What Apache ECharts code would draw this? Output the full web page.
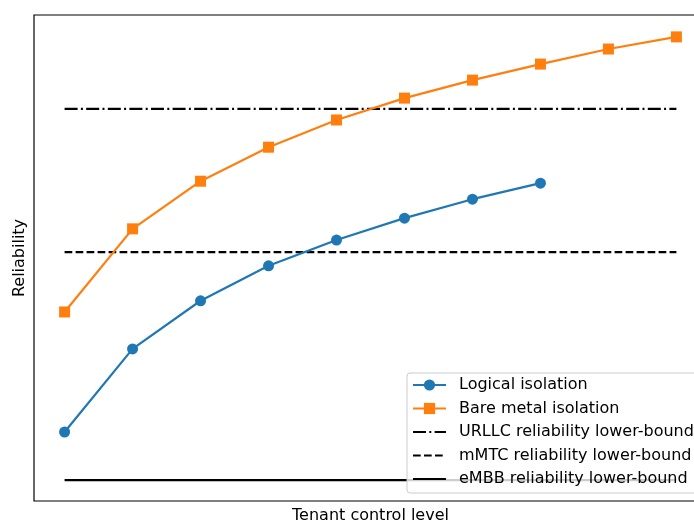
<!DOCTYPE html>
<html>
<head>
<meta charset="utf-8">
<script src="https://cdn.jsdelivr.net/npm/echarts@6/dist/echarts.min.js"></script>
<style>html,body{margin:0;padding:0;background:#fff;}#c{width:694px;height:523px;}</style>
</head>
<body>
<div id="c"></div>
<script>
const levels = [1, 2, 3, 4, 5, 6, 7, 8, 9, 10];
const logicalIsolation = [14.2, 31.3, 41.2, 48.4, 53.7, 58.2, 62.1, 65.4];
const bareMetalIsolation = [38.9, 56.0, 65.8, 72.8, 78.4, 82.9, 86.6, 89.9, 93.0, 95.5];
const urllcBound = 80.7;
const mmtcBound = 51.2;
const embbBound = 4.3;
const seriesNames = ['Logical isolation', 'Bare metal isolation', 'URLLC reliability lower-bound', 'mMTC reliability lower-bound', 'eMBB reliability lower-bound'];

const font = 'DejaVu Sans';
const pairs = (ys) => ys.map((v, i) => [levels[i], v]);
const hline = (v) => [[levels[0], v], [levels[levels.length - 1], v]];

const chart = echarts.init(document.getElementById('c'), null, {renderer: 'canvas'});
chart.setOption({
  animation: false,
  backgroundColor: '#ffffff',
  textStyle: {fontFamily: font},
  grid: {left: 34, top: 15, width: 673, height: 486, show: true, borderColor: '#000', borderWidth: 1.2,
         backgroundColor: 'transparent', outerBoundsMode: 'none', containLabel: false},
  xAxis: {
    type: 'value', min: 0.55, max: 10.45,
    name: 'Tenant control level', nameLocation: 'middle', nameGap: 7,
    nameTextStyle: {fontFamily: font, fontSize: 16, color: '#000', verticalAlign: 'top'},
    axisLine: {show: false}, axisTick: {show: false}, axisLabel: {show: false}, splitLine: {show: false}
  },
  yAxis: {
    type: 'value', min: 0, max: 100,
    name: 'Reliability', nameLocation: 'middle', nameGap: 6, nameRotate: 90,
    nameTextStyle: {fontFamily: font, fontSize: 16, color: '#000'},
    axisLine: {show: false}, axisTick: {show: false}, axisLabel: {show: false}, splitLine: {show: false}
  },
  legend: {
    orient: 'vertical', left: 407, top: 373,
    padding: [4, 10, 6, 5],
    itemWidth: 33, itemHeight: 14, itemGap: 7.5,
    backgroundColor: 'rgba(255,255,255,0.8)', borderColor: '#cccccc', borderWidth: 1, borderRadius: 3,
    textStyle: {fontFamily: font, fontSize: 16, color: '#000', padding: [0, 0, 0, 8]},
    data: [
      {name: seriesNames[0]},
      {name: seriesNames[1]},
      {name: seriesNames[2], itemStyle: {opacity: 0}},
      {name: seriesNames[3], itemStyle: {opacity: 0}},
      {name: seriesNames[4], itemStyle: {opacity: 0}}
    ]
  },
  series: [
    {name: seriesNames[0], type: 'line', data: pairs(logicalIsolation), symbol: 'circle', symbolSize: 11,
     itemStyle: {color: '#1f77b4'}, lineStyle: {color: '#1f77b4', width: 2.2}, z: 3},
    {name: seriesNames[1], type: 'line', data: pairs(bareMetalIsolation), symbol: 'rect', symbolSize: 11,
     itemStyle: {color: '#ff7f0e'}, lineStyle: {color: '#ff7f0e', width: 2.2}, z: 3},
    {name: seriesNames[2], type: 'line', data: hline(urllcBound), symbol: 'none',
     itemStyle: {color: '#000'}, lineStyle: {color: '#000', width: 2.2, type: [13, 3.3, 2, 3.3]}, z: 2},
    {name: seriesNames[3], type: 'line', data: hline(mmtcBound), symbol: 'none',
     itemStyle: {color: '#000'}, lineStyle: {color: '#000', width: 2.2, type: [7.7, 3.3]}, z: 2},
    {name: seriesNames[4], type: 'line', data: hline(embbBound), symbol: 'none',
     itemStyle: {color: '#000'}, lineStyle: {color: '#000', width: 2.2}, z: 2}
  ]
});
</script>
</body>
</html>
